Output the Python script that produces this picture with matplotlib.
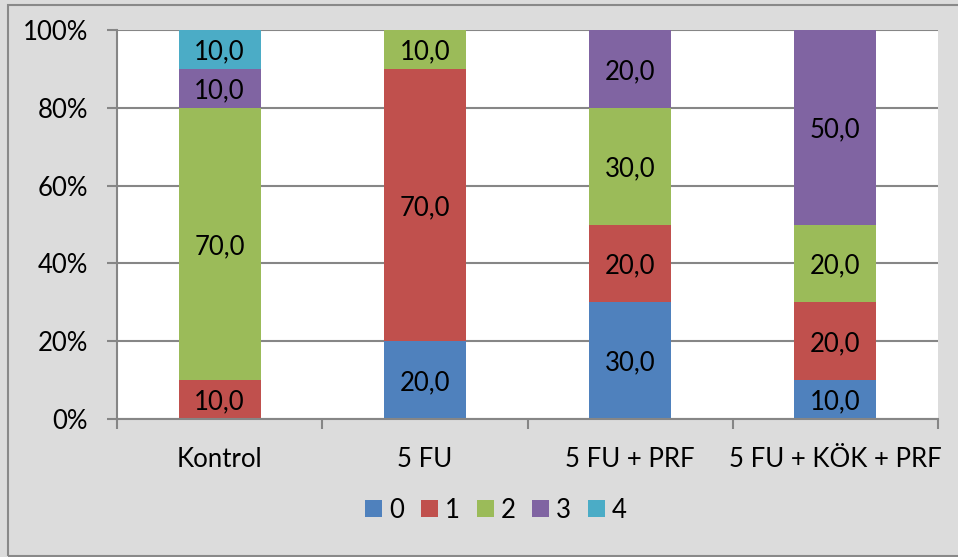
import matplotlib
matplotlib.use("Agg")
import matplotlib.pyplot as plt
from matplotlib.patches import Rectangle
from matplotlib.ticker import FixedLocator, PercentFormatter
import numpy as np

categories = ["Kontrol", "5 FU", "5 FU + PRF", "5 FU + KÖK + PRF"]
series_names = ["0", "1", "2", "3", "4"]
values = {
    "0": [0, 20, 30, 10],
    "1": [10, 70, 20, 20],
    "2": [70, 10, 30, 20],
    "3": [10, 0, 20, 50],
    "4": [10, 0, 0, 0],
}
colors = ["#4F81BD", "#C0504D", "#9BBB59", "#8064A2", "#4BACC6"]
yticks = [0, 20, 40, 60, 80, 100]

plt.rcParams['font.family'] = ['Lato', 'DejaVu Sans']
FS = 18.5

W, H = 958, 557
fig = plt.figure(figsize=(W / 100, H / 100), dpi=100)
fig.patch.set_facecolor("#DCDCDC")
fig.add_artist(Rectangle((7.5 / W, 1.5 / H), (W + 10) / W, (H - 6) / H,
                         transform=fig.transFigure, fill=False,
                         edgecolor="#898989", linewidth=1.5))

ax = fig.add_axes([117 / W, 138 / H, (938 - 117) / W, (527 - 138) / H])
ax.set_facecolor("white")

x = np.arange(len(categories))
bottom = np.zeros(len(categories))
handles = []
for name, col in zip(series_names, colors):
    v = np.array(values[name], dtype=float)
    b = ax.bar(x, v, 0.4, bottom=bottom, color=col, zorder=3)
    handles.append(b)
    for xi, vi, bi in zip(x, v, bottom):
        if vi > 0:
            ax.text(xi, bi + vi / 2, f"{vi:.1f}".replace(".", ","),
                    ha="center", va="center_baseline", fontsize=FS, color="black", zorder=4)
    bottom += v

ax.set_xlim(-0.5, len(categories) - 0.5)
ax.set_ylim(0, 100)
ax.set_yticks(yticks)
ax.yaxis.set_major_formatter(PercentFormatter(decimals=0))
ax.grid(axis="y", color="#868686", linewidth=1.5, zorder=1)
ax.set_xticks(x)
ax.set_xticklabels(categories)
ax.xaxis.set_minor_locator(FixedLocator(np.arange(-0.5, len(categories), 1.0)))
ax.tick_params(axis="x", which="major", length=0, pad=20, labelsize=FS)
ax.tick_params(axis="x", which="minor", length=7, width=1.5, color="#868686")
ax.tick_params(axis="y", length=7, width=1.5, color="#868686", pad=14, labelsize=FS)
for s in ["top", "right"]:
    ax.spines[s].set_visible(False)
for s in ["left", "bottom"]:
    ax.spines[s].set_color("#868686")
    ax.spines[s].set_linewidth(1.5)
    ax.spines[s].set_zorder(5)

fig.legend(handles, series_names, loc="center", bbox_to_anchor=(496 / W, 1 - 510 / H),
           ncol=5, frameon=False, fontsize=FS, handlelength=0.66, handleheight=0.66,
           handletextpad=0.27, columnspacing=0.66)

fig.savefig("out.png", dpi=100, facecolor=fig.get_facecolor())
